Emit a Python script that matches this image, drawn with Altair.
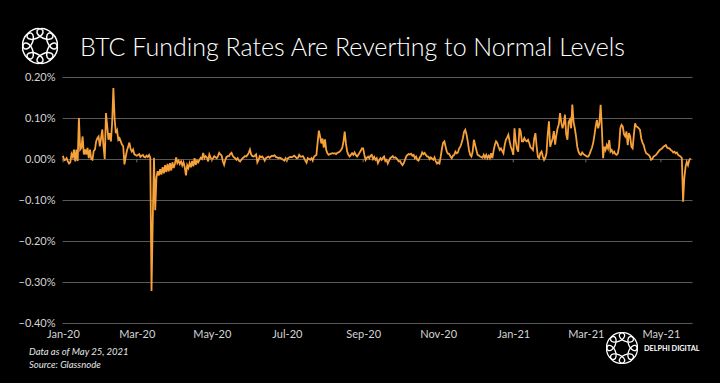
import altair as alt
import pandas as pd
import jinja2

# ---------------- data (BTC funding rate, % per 8h, daily) ----------------
jan20 = [0.008, -0.003, -0.002, 0.002, -0.006, -0.011, -0.008, 0.012, 0.005, 0.023,
         -0.006, 0.023, -0.005, 0.100, 0.023, 0.027, 0.055, 0.011, 0.023, 0.011,
         0.027, 0.002, 0.023, 0.000, -0.002, 0.020, 0.023, 0.043, 0.051, 0.055, 0.031]
feb20 = [0.051, 0.072, 0.030, 0.000, 0.112, 0.080, 0.047, 0.063, 0.043, 0.088,
         0.173, 0.100, 0.063, 0.070, 0.047, 0.051, 0.043, 0.035, 0.031, -0.013,
         0.005, 0.020, 0.030, 0.040, 0.025, 0.018, 0.023, 0.012, 0.010]
mar20 = [0.008, 0.010, 0.012, 0.005, 0.008, 0.010, 0.005, 0.004, 0.008, 0.005,
         0.010, 0.003, -0.322, -0.150, 0.003, -0.125, -0.045, -0.030, -0.040, -0.025,
         -0.038, -0.020, -0.035, -0.015, -0.032, -0.012, -0.030, -0.010, -0.028, -0.008, -0.022]
apr20 = [-0.012, 0.004, -0.010, -0.004, -0.012, -0.006, -0.016, -0.008, -0.020, -0.040,
         -0.015, -0.022, -0.010, -0.020, -0.005, -0.018, 0.002, -0.014, -0.004, -0.008,
         -0.002, 0.003, 0.000, 0.015, 0.002, 0.007, 0.004, -0.006, 0.011, 0.004]
may20 = [-0.002, 0.002, 0.007, 0.004, 0.002, 0.007, 0.015, 0.011, 0.008, -0.006,
         -0.014, -0.002, 0.005, 0.007, 0.007, 0.012, 0.015, 0.008, 0.004, 0.002,
         -0.002, 0.002, -0.004, -0.006, -0.002, 0.002, 0.004, 0.007, 0.006, 0.010, 0.015]
jun20 = [0.023, 0.011, 0.007, 0.006, 0.008, 0.011, -0.008, -0.002, 0.007, 0.004,
         0.006, 0.002, -0.004, 0.002, 0.004, 0.006, 0.003, 0.006, 0.008, 0.007,
         0.009, 0.005, 0.004, 0.002, 0.003, 0.002, 0.000, -0.002, -0.004, 0.002]
jul20 = [-0.004, 0.002, 0.004, 0.005, 0.004, 0.006, 0.008, 0.005, 0.002, 0.003,
         0.010, 0.006, 0.006, 0.007, 0.002, -0.004, -0.009, 0.002, 0.000, -0.002,
         0.002, -0.004, 0.005, 0.008, 0.010, 0.040, 0.069, 0.055, 0.038, 0.050, 0.028]
aug20 = [0.048, 0.022, 0.014, 0.010, 0.012, 0.013, 0.014, 0.013, 0.014, 0.012,
         0.015, 0.016, 0.018, 0.022, 0.027, 0.042, 0.067, 0.038, 0.018, 0.010,
         0.006, 0.010, 0.014, 0.010, 0.016, 0.010, 0.006, 0.010, 0.015, 0.020, 0.026]
sep20 = [0.026, 0.010, -0.002, 0.003, 0.006, 0.002, 0.008, 0.010, 0.000, 0.005,
         -0.002, 0.002, -0.010, -0.004, 0.002, -0.002, 0.003, 0.006, -0.005, -0.002,
         -0.011, -0.004, 0.002, 0.004, 0.007, 0.003, 0.004, 0.002, -0.002, -0.006]
oct20 = [-0.005, -0.011, -0.015, -0.010, -0.002, 0.006, 0.010, 0.012, 0.011, 0.013,
         0.008, 0.010, 0.002, 0.006, -0.002, -0.004, 0.004, 0.008, 0.016, 0.012,
         0.015, 0.010, 0.006, 0.006, 0.000, 0.004, 0.001, -0.002, 0.004, -0.006, -0.011]
nov20 = [-0.008, -0.011, 0.005, 0.025, 0.040, 0.043, 0.030, 0.018, 0.013, 0.012,
         0.006, 0.002, 0.008, 0.010, 0.018, 0.014, 0.016, 0.026, 0.030, 0.039,
         0.050, 0.066, 0.071, 0.060, 0.043, 0.022, 0.010, 0.006, 0.018, 0.047]
dec20 = [0.034, 0.022, 0.010, 0.009, 0.006, 0.005, 0.003, 0.010, 0.003, 0.010,
         0.002, 0.008, 0.002, 0.014, 0.002, 0.020, 0.034, 0.043, 0.039, 0.030,
         0.022, 0.026, 0.020, 0.014, 0.034, 0.047, 0.052, 0.059, 0.043, 0.030, 0.022]
jan21 = [0.010, 0.075, 0.043, 0.025, 0.018, 0.075, 0.067, 0.043, 0.043, 0.051,
         0.045, 0.043, 0.047, 0.039, 0.028, 0.026, 0.022, 0.050, 0.063, 0.030,
         0.005, 0.002, 0.014, 0.018, 0.006, -0.002, 0.003, 0.014, 0.060, 0.092, 0.030]
feb21 = [0.040, 0.050, 0.068, 0.035, 0.058, 0.075, 0.084, 0.112, 0.090, 0.075,
         0.085, 0.108, 0.060, 0.047, 0.090, 0.096, 0.075, 0.133, 0.090, 0.075,
         0.055, 0.030, 0.018, 0.012, 0.010, 0.016, 0.012, 0.010]
mar21 = [0.008, 0.006, 0.006, 0.012, 0.020, 0.028, 0.040, 0.059, 0.080, 0.095,
         0.075, 0.087, 0.132, 0.075, 0.002, 0.030, 0.022, 0.034, 0.026, 0.046,
         0.018, 0.022, 0.014, 0.018, 0.012, 0.010, 0.014, 0.030, 0.075, 0.083, 0.079]
apr21 = [0.060, 0.055, 0.067, 0.034, 0.063, 0.055, 0.030, 0.026, 0.059, 0.087,
         0.079, 0.078, 0.075, 0.071, 0.050, 0.040, 0.034, 0.022, 0.014, 0.012,
         0.010, 0.006, -0.002, 0.000, 0.006, 0.008, 0.010, 0.014, 0.018, 0.022]
may21 = [0.024, 0.026, 0.030, 0.032, 0.034, 0.028, 0.026, 0.026, 0.022, 0.020,
         0.016, 0.018, 0.014, 0.016, 0.010, 0.008, 0.006, 0.002, -0.104, -0.047,
         -0.019, -0.007, -0.015, -0.003, 0.002]

months = [jan20, feb20, mar20, apr20, may20, jun20, jul20, aug20, sep20, oct20,
          nov20, dec20, jan21, feb21, mar21, apr21, may21]
rates = [v for m in months for v in m]
start_date = "2020-01-01"

tick_months = ["2020-01-01", "2020-03-01", "2020-05-01", "2020-07-01", "2020-09-01",
               "2020-11-01", "2021-01-01", "2021-03-01", "2021-05-01"]
y_ticks = [0.2, 0.1, 0.0, -0.1, -0.2, -0.3, -0.4]

TITLE = "BTC Funding Rates Are Reverting to Normal Levels"
NOTE1 = "Data as of May 25, 2021"
NOTE2 = "Source: Glassnode"
BRAND = "DELPHI DIGITAL"

# ---------------- frames ----------------
df = pd.DataFrame({"date": pd.date_range(start_date, periods=len(rates), freq="D"),
                   "rate": rates})
tick_ts = pd.to_datetime(tick_months)
tick_df = pd.DataFrame({"date": tick_ts})

ORANGE = "#f7a13b"
GRID = "#595959"
LABEL = "#d4d4d4"
FONT = "Lato"

x_scale = alt.Scale(domain=[alt.DateTime(year=2019, month=12, date=31, hours=6),
                            alt.DateTime(year=2021, month=5, date=26, hours=6)])
x_axis = alt.Axis(values=[alt.DateTime(year=t.year, month=t.month, date=1) for t in tick_ts],
                  format="%b-%y", title=None, grid=False, domain=False, ticks=False,
                  labelPadding=5, labelColor=LABEL, labelFontSize=11, labelFont=FONT,
                  labelAngle=0, labelOverlap=False, labelFlush=False, labelAlign="center")
y_scale = alt.Scale(domain=[-0.4, 0.2], nice=False, zero=False)
y_axis = alt.Axis(values=y_ticks, labelExpr="format(datum.value, '.2f') + '%'",
                  title=None, grid=True, gridColor=GRID, gridWidth=1, domain=False,
                  ticks=False, labelPadding=7, labelColor=LABEL, labelFontSize=11,
                  labelFont=FONT)

X = alt.X("date:T", scale=x_scale, axis=x_axis)

line = alt.Chart(df).mark_line(color=ORANGE, strokeWidth=1.8).encode(
    x=X, y=alt.Y("rate:Q", scale=y_scale, axis=y_axis))

zero_ticks = alt.Chart(tick_df).mark_rule(color="#707070", strokeWidth=1).encode(
    x=X, y=alt.datum(0.0), y2=alt.datum(-0.008))


def text_layer(txt, x, y, **kw):
    return alt.Chart(pd.DataFrame({"t": [txt]})).mark_text(**kw).encode(
        x=alt.value(x), y=alt.value(y), text="t:N")


title = text_layer(TITLE, 18, -21, align="left", baseline="alphabetic", fontSize=25,
                   font=FONT, fontWeight=300, color="#ffffff")
note1 = text_layer(NOTE1, -33, 275, align="left", baseline="middle", fontSize=9.5,
                   font=FONT, fontStyle="italic", color="#e6e6e6")
note2 = text_layer(NOTE2, -33, 288, align="left", baseline="middle", fontSize=9.5,
                   font=FONT, fontStyle="italic", color="#e6e6e6")
brand = text_layer(BRAND, 582, 272, align="left", baseline="middle", fontSize=7.3,
                   font=FONT, fontWeight="bold", color="#ffffff")

ELLIPSE = "M-1,0A1,0.55,0,1,1,1,0A1,0.55,0,1,1,-1,0Z"
ring_df = pd.DataFrame({"k": list(range(8))})


def logo(cx, cy, r, size, sw):
    return alt.Chart(ring_df).transform_calculate(
        px=f"{cx} + {r}*cos(datum.k*PI/4 + PI/8)",
        py=f"{cy} + {r}*sin(datum.k*PI/4 + PI/8)",
        ang="(datum.k*45 + 22.5 + 90) % 360",
    ).mark_point(shape=ELLIPSE, filled=False, stroke="#ffffff", strokeWidth=sw,
                 size=size, opacity=1).encode(
        x=alt.X("px:Q", scale=None), y=alt.Y("py:Q", scale=None),
        angle=alt.Angle("ang:Q", scale=None))


logo_top = logo(-22, -31, 13, 290, 1.5)
logo_bottom = logo(560, 271, 11.5, 225, 1.3)

chart = alt.layer(line, zero_ticks, title, note1, note2, brand, logo_top, logo_bottom).properties(
    width=630, height=246,
    padding={"left": 54, "top": 69, "right": 20, "bottom": 50},
    autosize=alt.AutoSizeParams(type="none"),
).configure(background="#000000").configure_view(stroke=None)

PAGE = jinja2.Template("""<!DOCTYPE html>
<html>
<head>
<meta charset="utf-8">
<style>
html, body { background: #000000; }
body { margin: 8px; }
</style>
<script type="text/javascript" src="{{ base_url }}/vega@{{ vega_version }}"></script>
<script type="text/javascript" src="{{ base_url }}/vega-lite@{{ vegalite_version }}"></script>
<script type="text/javascript" src="{{ base_url }}/vega-embed@{{ vegaembed_version }}"></script>
</head>
<body>
<div id="{{ output_div }}"></div>
<script type="text/javascript">
  (function(vegaEmbed) {
    var spec = {{ spec }};
    var embedOpt = Object.assign({"mode": "{{ mode }}"}, {{ embed_options }});
    const el = document.getElementById('{{ output_div }}');
    vegaEmbed("#{{ output_div }}", spec, embedOpt).catch(function(error) {
      el.innerHTML = '<div style="color:red;">' + error.message + '</div>';
    });
  })(vegaEmbed);
</script>
</body>
</html>
""")

chart.save("out.html", embed_options={"renderer": "svg", "actions": False}, template=PAGE)
